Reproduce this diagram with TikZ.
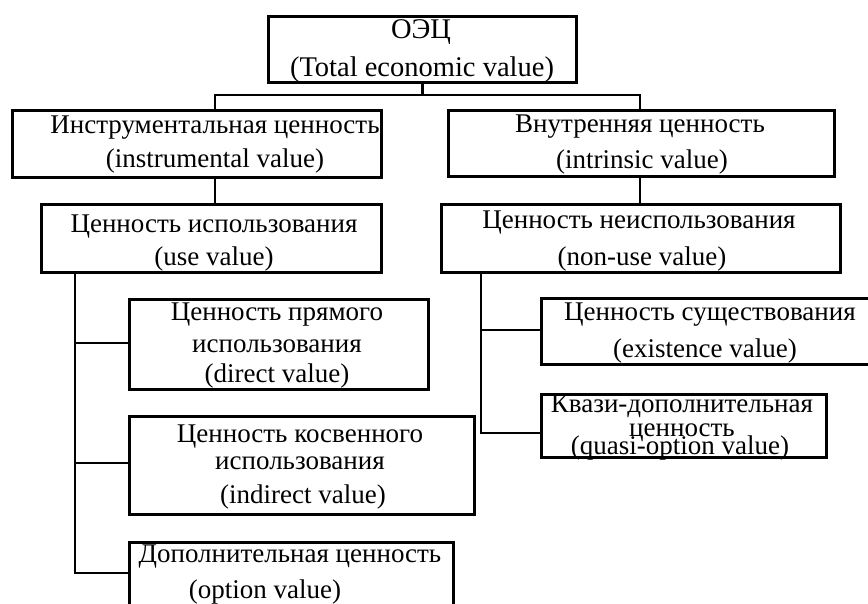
\documentclass[tikz,border=0pt]{standalone}
\usepackage{fontspec}
\setmainfont{Liberation Serif}
\begin{document}
\begin{tikzpicture}[x=1pt,y=-1pt,
  box/.style={draw, line width=2.8pt, inner sep=0pt, anchor=north west},
  lbl/.style={anchor=base, inner sep=0pt, font=\fontsize{27}{32}\selectfont},
  toplbl/.style={lbl, font=\fontsize{28.5}{34}\selectfont},
  wire/.style={line width=2.8pt}]
\useasboundingbox (0,0) rectangle (868,603);
\clip (0,0) rectangle (868,603);

% boxes
\node[box, minimum width=308pt, minimum height=66pt] (T)  at (267,15)  {};
\node[box, minimum width=369pt, minimum height=67pt] (I)  at (11,109)  {};
\node[box, minimum width=386pt, minimum height=66pt] (N)  at (447,109) {};
\node[box, minimum width=340pt, minimum height=68pt] (U)  at (40,203)  {};
\node[box, minimum width=399pt, minimum height=68pt] (NU) at (440,203) {};
\node[box, minimum width=299pt, minimum height=90pt] (D)  at (128,298) {};
\node[box, minimum width=345pt, minimum height=98pt] (IN) at (128,415) {};
\node[box, minimum width=324pt, minimum height=70pt] (O)  at (128,541) {};
\node[box, minimum width=340pt, minimum height=66pt] (E)  at (540,297) {};
\node[box, minimum width=285pt, minimum height=63pt] (Q)  at (540,393) {};

% labels
\node[toplbl] (t1) at (421,38) {ОЭЦ};
\node[toplbl] (t2) at (422,76) {(Total economic value)};
\node[lbl] (i1) at (215,133) {Инструментальная ценность};
\node[lbl] (i2) at (215,167) {(instrumental value)};
\node[lbl] (n1) at (640,132) {Внутренняя ценность};
\node[lbl] (n2) at (642,168) {(intrinsic value)};
\node[lbl] (u1) at (214,232) {Ценность использования};
\node[lbl] (u2) at (214,265) {(use value)};
\node[lbl] (nu1) at (639,228) {Ценность неиспользования};
\node[lbl] (nu2) at (642,265) {(non-use value)};
\node[lbl] (d1) at (277,320) {Ценность прямого};
\node[lbl] (d2) at (277,352) {использования};
\node[lbl] (d3) at (277,382) {(direct value)};
\node[lbl] (in1) at (300,442) {Ценность косвенного};
\node[lbl] (in2) at (300,469) {использования};
\node[lbl] (in3) at (303,503) {(indirect value)};
\node[lbl] (o1) at (290,562) {Дополнительная ценность};
\node[lbl] (o2) at (265,598) {(option value)};
\node[lbl] (e1) at (710,320) {Ценность существования};
\node[lbl] (e2) at (705,357) {(existence value)};
\node[lbl] (q1) at (682,412) {Квази-дополнительная};
\node[lbl] (q2) at (682,436) {ценность};
\node[lbl] (q3) at (680,454) {(quasi-option value)};

% junction points of the tree
\coordinate (spL) at (215,95);
\coordinate (spR) at (640,95);
\coordinate (trL) at (75,0);
\coordinate (trR) at (481,0);
\coordinate (bD)  at (75,343);
\coordinate (bIN) at (75,463);
\coordinate (bO)  at (75,573);
\coordinate (bE)  at (481,330);
\coordinate (bQ)  at (481,433);

% connectors
\draw[wire] (T.south) -- (T.south |- spL);
\draw[wire] (spL |- I.north) -- (spL) -- (spR) -- (spR |- N.north);
\draw[wire] (spL |- I.south) -- (spL |- U.north);
\draw[wire] (spR |- N.south) -- (spR |- NU.north);
\draw[wire] (trL |- U.south) -- (bO) -- (bO -| O.west);
\draw[wire] (bD) -- (bD -| D.west);
\draw[wire] (bIN) -- (bIN -| IN.west);
\draw[wire] (trR |- NU.south) -- (bQ) -- (bQ -| Q.west);
\draw[wire] (bE) -- (bE -| E.west);
\end{tikzpicture}
\end{document}
